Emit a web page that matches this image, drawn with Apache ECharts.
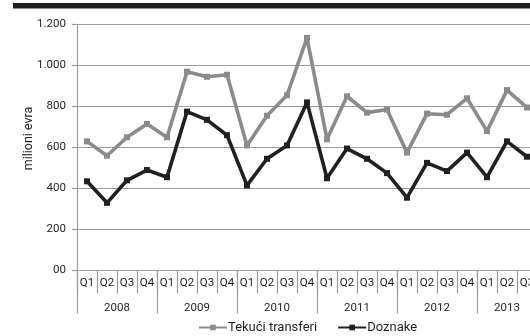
<!DOCTYPE html>
<html>
<head>
<meta charset="utf-8">
<script src="https://cdn.jsdelivr.net/npm/echarts@6/dist/echarts.min.js"></script>
<style>
  html, body { margin: 0; padding: 0; background: #fff; }
  #chart { width: 530px; height: 336px; }
</style>
</head>
<body>
<div id="chart"></div>
<script>
// Quarterly transfers from abroad, millions of euro
const years = ['2008', '2009', '2010', '2011', '2012', '2013'];
const quarters = ['Q1', 'Q2', 'Q3', 'Q4'];
const quartersPerYear = [4, 4, 4, 4, 4, 3];
const tekuciTransferi = [630, 560, 650, 715, 650, 970, 945, 955, 610, 755, 855, 1135,
  640, 850, 770, 785, 575, 765, 760, 840, 680, 880, 795];
const doznake = [435, 330, 440, 490, 455, 775, 735, 660, 415, 545, 610, 820,
  450, 595, 545, 475, 355, 525, 485, 575, 455, 630, 555];
const yTickLabels = ['00', '200', '400', '600', '800', '1.000', '1.200'];

// Quarter categories and year group boundaries / centres
const categories = [];
const yearBounds = [0];
const yearCentres = [];
years.forEach((y, i) => {
  const start = categories.length;
  for (let q = 0; q < quartersPerYear[i]; q++) categories.push(quarters[q]);
  yearBounds.push(categories.length);
  yearCentres.push((start + categories.length) / 2);
});

const textColor = '#231f20';
const gridColor = '#9d9d9d';
const font = 'Roboto, "Noto Sans", sans-serif';

const chart = echarts.init(document.getElementById('chart'), null, { renderer: 'canvas' });
chart.setOption({
  animation: false,
  backgroundColor: '#ffffff',
  textStyle: { fontFamily: font, color: textColor },
  graphic: [{
    type: 'rect',
    shape: { x: 13, y: 3, width: 520, height: 5.5 },
    style: { fill: '#231f20' }
  }],
  grid: {
    left: 77, top: 24.5, height: 246, width: categories.length * 20,
    outerBoundsMode: 'none', containLabel: false
  },
  legend: {
    left: 198, top: 321, padding: 0,
    itemWidth: 28, itemHeight: 7, itemGap: 20,
    textStyle: { fontSize: 13, color: textColor, fontFamily: font, padding: [0, 0, 0, -4] },
    data: ['Tekući transferi', 'Doznake']
  },
  xAxis: [{
    type: 'category',
    data: categories,
    boundaryGap: true,
    axisLine: { lineStyle: { color: gridColor, width: 1.2 } },
    axisTick: { show: true, length: 23, interval: 0, lineStyle: { color: gridColor, width: 1.2 } },
    axisLabel: { interval: 0, margin: 7, fontSize: 11.5, color: textColor, fontFamily: font }
  }, {
    type: 'value',
    position: 'bottom',
    min: 0, max: categories.length,
    axisLine: { show: false },
    splitLine: { show: false },
    axisTick: { show: true, length: 43, customValues: yearBounds, lineStyle: { color: gridColor, width: 1.2 } },
    axisLabel: {
      margin: 32, fontSize: 11.5, color: textColor, fontFamily: font,
      customValues: yearCentres,
      formatter: v => years[yearCentres.indexOf(v)]
    }
  }],
  yAxis: {
    type: 'value',
    min: 0, max: 1200, interval: 200,
    name: 'milioni evra',
    nameLocation: 'middle',
    nameGap: 42,
    nameMoveOverlap: false,
    nameTextStyle: { fontSize: 12.5, color: textColor, fontFamily: font, padding: [0, 0, 0, 18] },
    axisLine: { show: true, lineStyle: { color: gridColor, width: 1.2 } },
    axisTick: { show: true, length: 5, lineStyle: { color: gridColor, width: 1.2 } },
    splitLine: { lineStyle: { color: gridColor, width: 1.2 } },
    axisLabel: {
      margin: 11, fontSize: 11.5, color: textColor, fontFamily: font,
      formatter: v => yTickLabels[Math.round(v / 200)]
    }
  },
  series: [{
    name: 'Tekući transferi',
    type: 'line',
    data: tekuciTransferi,
    xAxisIndex: 0,
    symbol: 'rect', symbolSize: 6,
    itemStyle: { color: '#8b8b8b' },
    lineStyle: { color: '#8b8b8b', width: 3.6 }
  }, {
    name: 'Doznake',
    type: 'line',
    data: doznake,
    xAxisIndex: 0,
    symbol: 'rect', symbolSize: 6,
    itemStyle: { color: '#231f20' },
    lineStyle: { color: '#231f20', width: 3.6 }
  }]
});
</script>
</body>
</html>
